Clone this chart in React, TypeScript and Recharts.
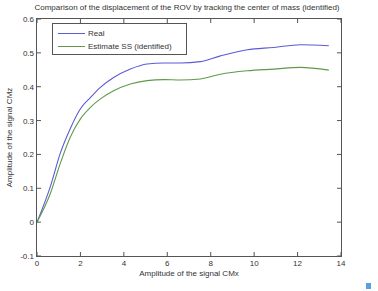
import React from "react";
import { LineChart, Line, XAxis, YAxis } from "recharts";

const xs = [0, 0.61, 1.07, 1.53, 2.0, 2.46, 2.92, 3.53, 4.3, 5.07, 5.83, 6.6, 7.53, 8.45, 9.68, 10.9, 12.13, 13.44];
const real = [0, 0.104, 0.203, 0.276, 0.335, 0.368, 0.398, 0.427, 0.452, 0.467, 0.47, 0.47, 0.474, 0.491, 0.509, 0.516, 0.524, 0.521];
const estimate = [0, 0.084, 0.173, 0.251, 0.305, 0.339, 0.364, 0.388, 0.408, 0.418, 0.421, 0.42, 0.423, 0.437, 0.447, 0.452, 0.457, 0.449];

const xTicks = [0, 2, 4, 6, 8, 10, 12, 14];
const yTicks = [-0.1, 0, 0.1, 0.2, 0.3, 0.4, 0.5, 0.6];

const seriesNames = ["Real", "Estimate SS (identified)"];
const colors = ["#5b5bd6", "#5f9a4a"];

const title = "Comparison of the displacement of the ROV by tracking the center of mass (identified)";
const xLabel = "Amplitude of the  signal CMx";
const yLabel = "Amplitude of the  signal CMz";

const data = xs.map((x, i) => ({ x, real: real[i], estimate: estimate[i] }));

const font = "Arial, 'Liberation Sans', sans-serif";
const axisColor = "#555";
const textColor = "#333";
const TICK = 4;

// matlab style: tick marks point into the plot box
const BottomTick = ({ x, y, payload }: any) => (
  <g>
    <line x1={x} y1={y} x2={x} y2={y - TICK} stroke={axisColor} />
    <text x={x} y={y + 10} textAnchor="middle" fontSize={8} fill={textColor} fontFamily={font}>
      {payload.value}
    </text>
  </g>
);
const LeftTick = ({ x, y, payload }: any) => (
  <g>
    <line x1={x} y1={y} x2={x + TICK} y2={y} stroke={axisColor} />
    <text x={x - 3} y={y + 3} textAnchor="end" fontSize={8} fill={textColor} fontFamily={font}>
      {String(Math.round(payload.value * 10) / 10)}
    </text>
  </g>
);
const TopTick = ({ x, y }: any) => <line x1={x} y1={y} x2={x} y2={y + TICK} stroke={axisColor} />;
const RightTick = ({ x, y }: any) => <line x1={x} y1={y} x2={x - TICK} y2={y} stroke={axisColor} />;

function LegendBox() {
  return (
    <div
      style={{
        position: "absolute",
        left: 52,
        top: 23,
        width: 133,
        height: 30,
        border: `1px solid ${axisColor}`,
        background: "#fff",
        fontFamily: font,
        fontSize: 8,
        color: textColor,
      }}
    >
      {seriesNames.map((name, i) => (
        <div key={name} style={{ display: "flex", alignItems: "center", height: 12, marginTop: i === 0 ? 3 : 1 }}>
          <span style={{ display: "inline-block", width: 27, height: 0, borderTop: `1px solid ${colors[i]}`, marginLeft: 5, marginRight: 3 }} />
          <span style={{ whiteSpace: "nowrap" }}>{name}</span>
        </div>
      ))}
    </div>
  );
}

export default function App() {
  return (
    <div style={{ position: "absolute", left: 0, top: 0, width: 378, height: 291, background: "#fff" }}>
      <div
        style={{
          position: "absolute",
          left: 0,
          top: 3,
          width: 374,
          textAlign: "center",
          fontFamily: font,
          fontSize: 8,
          color: textColor,
          whiteSpace: "nowrap",
        }}
      >
        {title}
      </div>
      <LineChart width={378} height={291} data={data} margin={{ top: 18, right: 36, bottom: 15, left: 7 }}>
        <XAxis
          dataKey="x"
          type="number"
          domain={[0, 14]}
          ticks={xTicks}
          allowDataOverflow
          height={20}
          axisLine={false}
          tickLine={false}
          tickSize={0}
          tickMargin={0}
          tick={BottomTick}
          label={{ value: xLabel, position: "bottom", offset: -6, style: { fontSize: 8, fill: textColor, fontFamily: font } }}
        />
        <XAxis
          xAxisId="top"
          orientation="top"
          dataKey="x"
          type="number"
          domain={[0, 14]}
          ticks={xTicks}
          allowDataOverflow
          height={1}
          axisLine={false}
          tickLine={false}
          tickSize={0}
          tickMargin={0}
          tick={TopTick}
        />
        <YAxis
          type="number"
          domain={[-0.1, 0.6]}
          ticks={yTicks}
          allowDataOverflow
          width={30}
          axisLine={false}
          tickLine={false}
          tickSize={0}
          tickMargin={0}
          tick={LeftTick}
          label={{
            value: yLabel,
            angle: -90,
            position: "left",
            offset: -2,
            style: { fontSize: 8, fill: textColor, fontFamily: font, textAnchor: "middle" },
          }}
        />
        <YAxis
          yAxisId="right"
          orientation="right"
          type="number"
          domain={[-0.1, 0.6]}
          ticks={yTicks}
          allowDataOverflow
          width={1}
          axisLine={false}
          tickLine={false}
          tickSize={0}
          tickMargin={0}
          tick={RightTick}
        />
        <Line type="monotone" dataKey="real" stroke={colors[0]} strokeWidth={1.1} dot={false} isAnimationActive={false} />
        {/* same domains, so the mirrored axes give the same scale */}
        <Line
          type="monotone"
          dataKey="estimate"
          xAxisId="top"
          yAxisId="right"
          stroke={colors[1]}
          strokeWidth={1.1}
          dot={false}
          isAnimationActive={false}
        />
      </LineChart>
      {/* plot box frame */}
      <div
        style={{
          position: "absolute",
          left: 36,
          top: 18,
          width: 304,
          height: 237,
          border: `1px solid ${axisColor}`,
          pointerEvents: "none",
        }}
      />
      <LegendBox />
      <div style={{ position: "absolute", left: 366, top: 283, width: 5, height: 6, background: "#5aa0e0" }} />
    </div>
  );
}
